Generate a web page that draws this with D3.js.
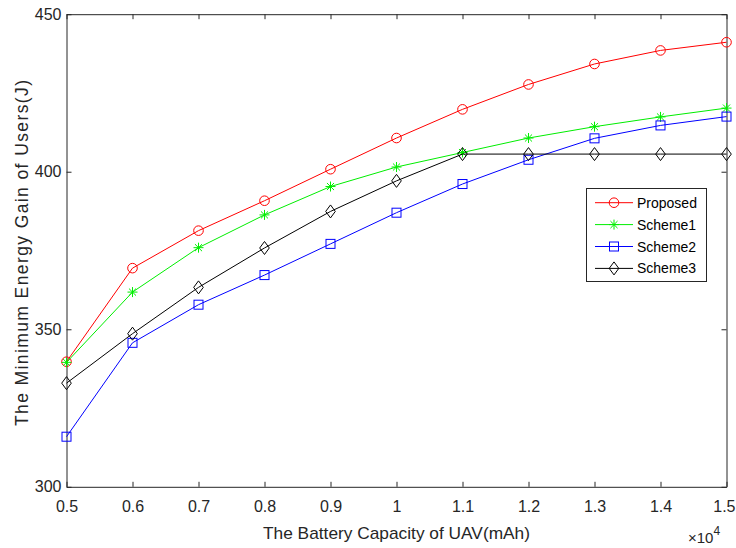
<!DOCTYPE html>
<html>
<head>
<meta charset="utf-8">
<script src="https://cdn.jsdelivr.net/npm/d3@7"></script>
<style>
  html, body { margin: 0; padding: 0; background: #fff; }
  svg { display: block; font-family: "Liberation Sans", Arial, Helvetica, sans-serif; }
</style>
</head>
<body>
<svg id="chart" width="736" height="548"></svg>
<script>
// Battery capacity (x 10^4 mAh)
const capacity = [0.5, 0.6, 0.7, 0.8, 0.9, 1.0, 1.1, 1.2, 1.3, 1.4, 1.5];
const xTickLabels = ["0.5", "0.6", "0.7", "0.8", "0.9", "1", "1.1", "1.2", "1.3", "1.4", "1.5"];
const yTicks = [300, 350, 400, 450];

// Minimum energy gain of users (J) per scheme
const proposed = [339.7, 369.4, 381.3, 390.8, 400.8, 410.7, 419.8, 427.7, 434.2, 438.5, 441.1];
const scheme1  = [339.5, 361.8, 375.9, 386.3, 395.3, 401.5, 406.1, 410.7, 414.3, 417.4, 420.2];
const scheme2  = [315.9, 345.7, 357.8, 367.2, 377.1, 387.0, 396.1, 403.8, 410.6, 414.7, 417.5];
const scheme3  = [332.9, 348.6, 363.3, 375.8, 387.4, 397.1, 405.6, 405.6, 405.6, 405.6, 405.6];

const seriesNames = ["Proposed", "Scheme1", "Scheme2", "Scheme3"];
const seriesColors = ["#ff0000", "#00ee00", "#0000ff", "#000000"];
const seriesMarkers = ["circle", "asterisk", "square", "diamond"];
const seriesValues = [proposed, scheme1, scheme2, scheme3];

const svg = d3.select("#chart");
const L = 66.5, R = 726.5, T = 14.2, B = 486.8;
const axisColor = "#262626";

const x = d3.scaleLinear().domain([0.5, 1.5]).range([L, R]);
const y = d3.scaleLinear().domain([300, 450]).range([B, T]);

// White plot background
svg.append("rect").attr("x", L).attr("y", T).attr("width", R - L).attr("height", B - T).attr("fill", "#fff");

// Axes with inward ticks (bottom/left labelled, top/right unlabelled)
const tickLen = 5;
const xAxis = d3.axisBottom(x).tickValues(capacity).tickFormat((d, i) => xTickLabels[i]).tickSizeInner(-tickLen).tickSizeOuter(0).tickPadding(14);
const yAxis = d3.axisLeft(y).tickValues(yTicks).tickSizeInner(-tickLen).tickSizeOuter(0).tickPadding(5);
const xTop = d3.axisTop(x).tickValues(capacity).tickFormat("").tickSizeInner(-tickLen).tickSizeOuter(0);
const yRight = d3.axisRight(y).tickValues(yTicks).tickFormat("").tickSizeInner(-tickLen).tickSizeOuter(0);

function styleAxis(g) {
  g.attr("font-family", null).attr("font-size", null);
  g.selectAll("path").attr("stroke", axisColor).attr("stroke-width", 1);
  g.selectAll("line").attr("stroke", axisColor).attr("stroke-width", 1);
  g.selectAll("text").attr("fill", axisColor).style("font-size", "16px");
}

const gx = svg.append("g").attr("transform", `translate(0,${B})`).call(xAxis).call(styleAxis);
// keep the last tick label inside the canvas edge
gx.selectAll(".tick").filter(d => d === capacity[capacity.length - 1]).select("text")
  .attr("text-anchor", "end").attr("x", 735 - R);
svg.append("g").attr("transform", `translate(${L},0)`).call(yAxis).call(styleAxis);
svg.append("g").attr("transform", `translate(0,${T})`).call(xTop).call(styleAxis);
svg.append("g").attr("transform", `translate(${R},0)`).call(yRight).call(styleAxis);

// Axis titles
svg.append("text")
  .attr("x", 396.5).attr("y", 539)
  .attr("text-anchor", "middle")
  .attr("fill", axisColor)
  .attr("textLength", 267)
  .attr("lengthAdjust", "spacingAndGlyphs")
  .style("font-size", "17px")
  .text("The Battery Capacity of UAV(mAh)");

svg.append("text")
  .attr("transform", `translate(28,253) rotate(-90)`)
  .attr("text-anchor", "middle")
  .attr("fill", axisColor)
  .attr("textLength", 346)
  .attr("lengthAdjust", "spacing")
  .style("font-size", "17.5px")
  .text("The Minimum Energy Gain of Users(J)");

// Exponent label
const expo = svg.append("text")
  .attr("x", 688).attr("y", 543)
  .attr("fill", axisColor)
  .style("font-size", "15px");
expo.append("tspan").text("\u00d710");
expo.append("tspan").attr("dy", -8).style("font-size", "12px").text("4");

// Marker drawing
function drawMarker(g, type, cx, cy, color) {
  if (type === "circle") {
    g.append("circle").attr("cx", cx).attr("cy", cy).attr("r", 4.8)
      .attr("fill", "none").attr("stroke", color).attr("stroke-width", 1);
  } else if (type === "square") {
    g.append("rect").attr("x", cx - 4.5).attr("y", cy - 4.5).attr("width", 9).attr("height", 9)
      .attr("fill", "none").attr("stroke", color).attr("stroke-width", 1);
  } else if (type === "diamond") {
    g.append("path").attr("d", `M${cx},${cy - 6.5}L${cx + 4.8},${cy}L${cx},${cy + 6.5}L${cx - 4.8},${cy}Z`)
      .attr("fill", "none").attr("stroke", color).attr("stroke-width", 1);
  } else if (type === "asterisk") {
    const r = 5;
    const d = r * Math.SQRT1_2;
    g.append("path").attr("d",
      `M${cx - r},${cy}L${cx + r},${cy}M${cx},${cy - r}L${cx},${cy + r}` +
      `M${cx - d},${cy - d}L${cx + d},${cy + d}M${cx - d},${cy + d}L${cx + d},${cy - d}`)
      .attr("fill", "none").attr("stroke", color).attr("stroke-width", 1);
  }
}

// Series lines and markers
const line = d3.line().x((d, i) => x(capacity[i])).y(d => y(d));
seriesValues.forEach((vals, si) => {
  const g = svg.append("g");
  g.append("path").attr("d", line(vals)).attr("fill", "none")
    .attr("stroke", seriesColors[si]).attr("stroke-width", 1);
  vals.forEach((v, i) => drawMarker(g, seriesMarkers[si], x(capacity[i]), y(v), seriesColors[si]));
});

// Legend
const lg = svg.append("g");
lg.append("rect").attr("x", 586.5).attr("y", 188.5).attr("width", 120).attr("height", 93)
  .attr("fill", "#fff").attr("stroke", axisColor).attr("stroke-width", 1);
seriesNames.forEach((name, i) => {
  const cy = 202.7 + i * 21.9;
  lg.append("line").attr("x1", 595).attr("x2", 633).attr("y1", cy).attr("y2", cy)
    .attr("stroke", seriesColors[i]).attr("stroke-width", 1);
  drawMarker(lg, seriesMarkers[i], 614, cy, seriesColors[i]);
  lg.append("text").attr("x", 637).attr("y", cy + 5).attr("fill", "#000")
    .style("font-size", "14px").text(name);
});
</script>
</body>
</html>
